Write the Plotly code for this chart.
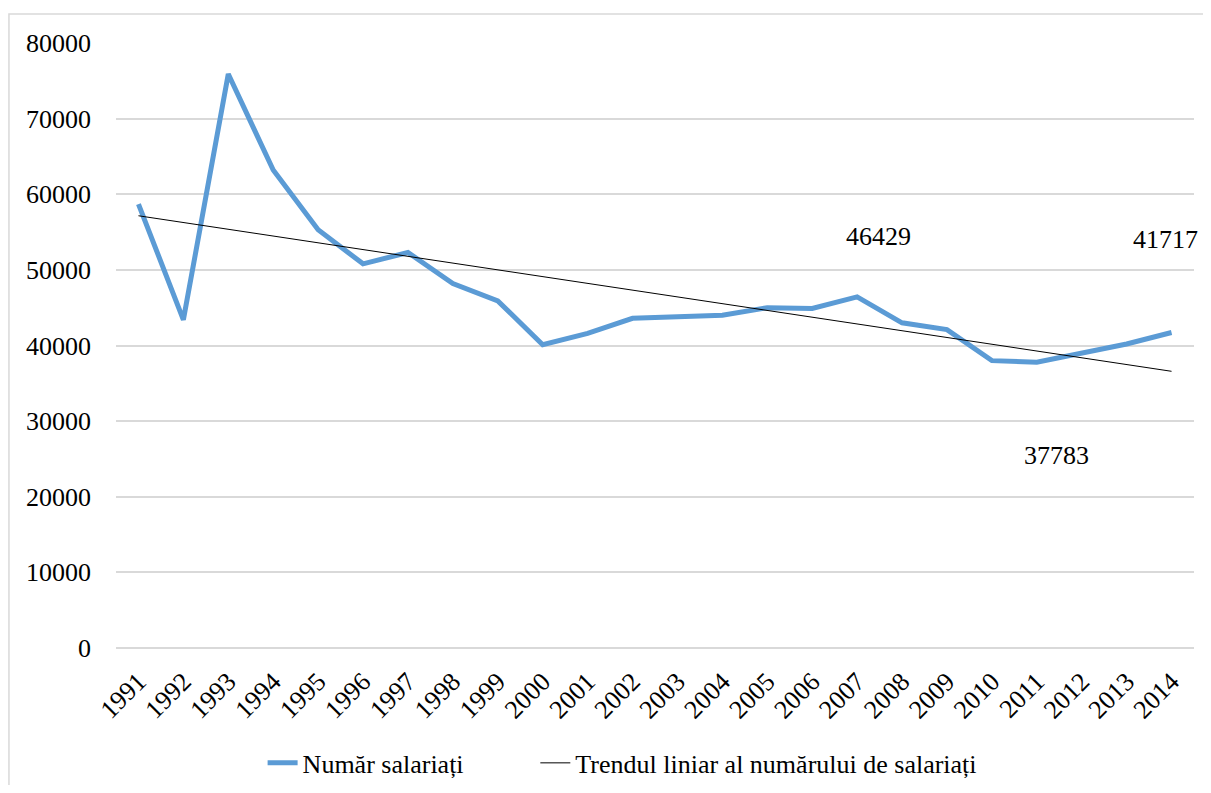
import numpy as np
import plotly.graph_objects as go

years = [str(y) for y in range(1991, 2015)]
salariati = [58700, 43400, 75900, 63200, 55300, 50800, 52300, 48200, 45900, 40100,
             41600, 43600, 43800, 44000, 45000, 44900, 46429, 43000, 42100, 38000,
             37783, 39000, 40200, 41717]
label_years = ["2007", "2011", "2014"]
label_values = [46429, 37783, 41717]

# linear trend, as Excel computes it (least squares on the index)
idx = np.arange(len(years))
slope, intercept = np.polyfit(idx, salariati, 1)
trend = slope * idx + intercept

FONT = "Liberation Serif"
FS = 26

fig = go.Figure()
fig.add_trace(go.Scatter(x=years, y=salariati, mode="lines", name="Număr salariați",
                         line=dict(color="#5b9bd5", width=5), legend="legend"))
fig.add_trace(go.Scatter(x=years, y=trend, mode="lines",
                         name="Trendul liniar al numărului de salariați",
                         line=dict(color="black", width=1), legend="legend2"))

# data labels, offset like Excel placed them (category axis -> use the index)
shifts = [(21, 60), (20, -93), (-6, 93)]
for yr, val, (dx, dy) in zip(label_years, label_values, shifts):
    fig.add_annotation(x=years.index(yr), y=val, xref="x", yref="y", text=str(val),
                       showarrow=False, xshift=dx, yshift=dy,
                       font=dict(size=FS, color="black", family=FONT))

# outer chart border
fig.add_shape(type="rect", xref="paper", yref="paper", x0=-0.0993, x1=1.02, y0=-0.3, y1=1.048,
              line=dict(color="#d9d9d9", width=1.5), layer="below")

leg = dict(orientation="h", yanchor="middle", y=-0.19, xanchor="left",
           font=dict(size=FS, family=FONT), bgcolor="rgba(0,0,0,0)")

# page body has an 8px margin all round, so keep the figure inside the window
fig.update_layout(
    width=1195, height=777,
    margin=dict(l=108, r=9, t=35, b=137, autoexpand=False),
    paper_bgcolor="white", plot_bgcolor="white",
    font=dict(family=FONT, size=FS, color="black"),
    showlegend=True,
    legend=dict(leg, x=0.136),
    legend2=dict(leg, x=0.389),
    xaxis=dict(type="category", tickangle=-45, showgrid=False, showline=False, automargin=False,
               ticks="", ticklabelstandoff=12, tickfont=dict(size=FS, family=FONT),
               range=[-0.5, 23.5]),
    yaxis=dict(range=[0, 80000], dtick=10000, showgrid=True, gridcolor="#d9d9d9", gridwidth=1.5,
               zeroline=True, zerolinecolor="#d9d9d9", zerolinewidth=1.5, automargin=False,
               tickformat="d", ticks="", ticklabelstandoff=24,
               tickfont=dict(size=FS, family=FONT)),
)

fig.write_html("out.html")
